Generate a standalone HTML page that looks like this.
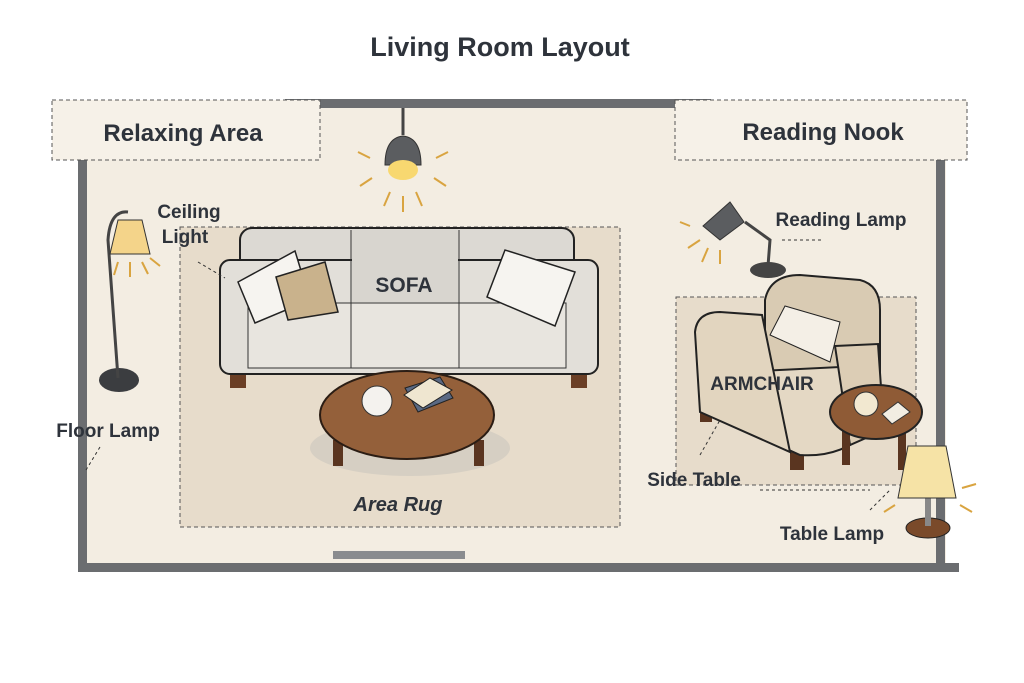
<!DOCTYPE html>
<html><head><meta charset="utf-8"><style>
html,body{margin:0;padding:0;background:#fff;}
svg{display:block;font-family:"Liberation Sans",sans-serif;}
</style></head><body>
<svg width="1024" height="683" viewBox="0 0 1024 683" xmlns="http://www.w3.org/2000/svg">
<rect width="1024" height="683" fill="#fff"/>
<text x="500" y="56" text-anchor="middle" font-size="27" font-weight="bold" fill="#2e333b">Living Room Layout</text>
<!-- floor -->
<rect x="86" y="106" width="860" height="460" fill="#f3ede2"/>
<!-- walls -->
<rect x="285" y="99" width="426" height="9" fill="#6b6d70"/>
<rect x="78" y="160" width="9" height="412" fill="#6b6d70"/>
<rect x="936" y="160" width="9" height="412" fill="#6b6d70"/>
<rect x="85" y="563" width="874" height="9" fill="#6b6d70"/>
<rect x="333" y="551" width="132" height="8" fill="#8a8c8f"/>
<!-- label boxes -->
<rect x="52" y="100" width="268" height="60" fill="#f6f1e8" stroke="#555" stroke-dasharray="4,3"/>
<text x="183" y="141" text-anchor="middle" font-size="24" font-weight="bold" fill="#2e333b">Relaxing Area</text>
<rect x="675" y="100" width="292" height="60" fill="#f6f1e8" stroke="#555" stroke-dasharray="4,3"/>
<text x="823" y="140" text-anchor="middle" font-size="24" font-weight="bold" fill="#2e333b">Reading Nook</text>
<!-- rugs -->
<rect x="180" y="227" width="440" height="300" fill="#e7dccb" stroke="#555" stroke-dasharray="4,3"/>
<rect x="676" y="297" width="240" height="188" fill="#e7dccb" stroke="#555" stroke-dasharray="4,3"/>
<!-- ceiling light -->
<line x1="403" y1="108" x2="403" y2="135" stroke="#444" stroke-width="3"/>
<path d="M385 165 Q385 138 403 136 Q421 138 421 165 Z" fill="#5b5d60" stroke="#333"/>
<ellipse cx="403" cy="170" rx="15" ry="10" fill="#f8d870"/>
<g stroke="#d9a440" stroke-width="2"><line x1="370" y1="158" x2="358" y2="152"/><line x1="436" y1="158" x2="448" y2="152"/><line x1="372" y1="178" x2="360" y2="186"/><line x1="434" y1="178" x2="446" y2="186"/><line x1="390" y1="192" x2="384" y2="206"/><line x1="416" y1="192" x2="422" y2="206"/><line x1="403" y1="196" x2="403" y2="212"/></g>
<!-- sofa -->
<rect x="230" y="374" width="16" height="14" fill="#6b3f26"/><rect x="571" y="374" width="16" height="14" fill="#6b3f26"/>
<rect x="240" y="228" width="334" height="110" rx="12" fill="#dcd9d3" stroke="#222" stroke-width="2"/>
<rect x="220" y="260" width="378" height="114" rx="10" fill="#e2dfd9" stroke="#222" stroke-width="2"/>
<rect x="248" y="303" width="318" height="65" fill="#e8e5df" stroke="#333"/>
<line x1="351" y1="230" x2="351" y2="368" stroke="#333"/><line x1="459" y1="230" x2="459" y2="368" stroke="#333"/>
<rect x="352" y="230" width="106" height="72" fill="#d8d5cf"/>
<polygon points="238,282 295,251 310,300 255,323" fill="#f6f4f0" stroke="#222" stroke-width="1.5"/>
<polygon points="276,277 325,262 338,312 288,320" fill="#c9b28c" stroke="#222" stroke-width="1.5"/>
<polygon points="487,297 505,250 575,272 555,326" fill="#f6f4f0" stroke="#222" stroke-width="1.5"/>
<text x="404" y="292" text-anchor="middle" font-size="21" font-weight="bold" fill="#2e333b">SOFA</text>
<!-- coffee table -->
<ellipse cx="410" cy="448" rx="100" ry="28" fill="#d6cfc3"/>
<rect x="333" y="440" width="10" height="26" fill="#5a3520"/><rect x="474" y="440" width="10" height="26" fill="#5a3520"/>
<ellipse cx="407" cy="415" rx="87" ry="44" fill="#94603a" stroke="#2b1d14" stroke-width="2"/>
<circle cx="377" cy="401" r="15" fill="#f4f2ee" stroke="#333"/>
<polygon points="405,388 440,377 453,398 418,412" fill="#5a6983" stroke="#222"/>
<polygon points="404,395 430,378 452,390 423,408" fill="#efe6d0" stroke="#222"/>
<text x="398" y="511" text-anchor="middle" font-size="20" font-style="italic" font-weight="bold" fill="#2e333b">Area Rug</text>
<!-- floor lamp -->
<ellipse cx="119" cy="380" rx="20" ry="12" fill="#3b3d40"/>
<path d="M118 378 L108 240 Q110 210 128 212" stroke="#444" stroke-width="3" fill="none"/>
<polygon points="118,220 142,220 150,254 110,254" fill="#f4d48a" stroke="#333"/>
<g stroke="#d9a440" stroke-width="2"><line x1="118" y1="262" x2="114" y2="275"/><line x1="130" y1="262" x2="130" y2="277"/><line x1="142" y1="262" x2="148" y2="274"/><line x1="150" y1="258" x2="160" y2="266"/></g>
<text x="189" y="218" text-anchor="middle" font-size="19" font-weight="bold" fill="#2e333b">Ceiling</text>
<text x="185" y="243" text-anchor="middle" font-size="19" font-weight="bold" fill="#2e333b">Light</text>
<line x1="198" y1="262" x2="225" y2="278" stroke="#333" stroke-dasharray="3,3"/>
<text x="108" y="437" text-anchor="middle" font-size="19" font-weight="bold" fill="#2e333b">Floor Lamp</text>
<line x1="100" y1="447" x2="86" y2="470" stroke="#333" stroke-dasharray="3,3"/>
<!-- reading lamp -->
<ellipse cx="768" cy="270" rx="18" ry="8" fill="#444"/>
<path d="M768 266 L770 240 L745 222" stroke="#444" stroke-width="3" fill="none"/>
<polygon points="703,226 730,202 744,222 720,240" fill="#5b5d60" stroke="#333"/>
<g stroke="#d9a440" stroke-width="2"><line x1="700" y1="240" x2="688" y2="248"/><line x1="708" y1="248" x2="702" y2="262"/><line x1="720" y1="250" x2="720" y2="264"/><line x1="690" y1="226" x2="680" y2="222"/></g>
<text x="841" y="226" text-anchor="middle" font-size="19" font-weight="bold" fill="#2e333b">Reading Lamp</text>
<line x1="782" y1="240" x2="822" y2="240" stroke="#333" stroke-dasharray="3,3"/>
<!-- armchair -->
<rect x="700" y="400" width="12" height="22" fill="#5a3520"/><rect x="790" y="448" width="14" height="22" fill="#5a3520"/>
<path d="M765 300 Q770 275 800 275 L860 280 Q880 285 880 310 L880 400 L765 400 Z" fill="#d9cbb3" stroke="#222" stroke-width="2"/>
<polygon points="770,335 785,306 840,322 830,362" fill="#f4efe6" stroke="#222"/>
<path d="M740 372 L860 366 L868 432 Q840 458 800 455 L745 430 Z" fill="#e4d8c4" stroke="#222" stroke-width="2"/>
<path d="M695 332 Q697 312 720 312 L762 315 L790 452 L700 412 Z" fill="#e2d5bf" stroke="#222" stroke-width="2"/>
<path d="M835 346 L878 344 L884 430 L850 445 Z" fill="#dccdb5" stroke="#222" stroke-width="2"/>
<text x="762" y="390" text-anchor="middle" font-size="19" font-weight="bold" fill="#2e333b">ARMCHAIR</text>
<!-- side table -->
<rect x="842" y="425" width="8" height="40" fill="#5a3520"/><rect x="898" y="425" width="8" height="45" fill="#5a3520"/>
<ellipse cx="876" cy="412" rx="46" ry="27" fill="#8f5b36" stroke="#222" stroke-width="2"/>
<circle cx="866" cy="404" r="12" fill="#f2e8d0" stroke="#333"/>
<polygon points="882,414 898,402 910,412 892,424" fill="#f2ede2" stroke="#333"/>
<text x="694" y="486" text-anchor="middle" font-size="19" font-weight="bold" fill="#2e333b">Side Table</text>
<line x1="700" y1="455" x2="720" y2="420" stroke="#333" stroke-dasharray="3,3"/>
<line x1="760" y1="490" x2="870" y2="490" stroke="#333" stroke-dasharray="3,3"/>
<!-- table lamp -->
<ellipse cx="928" cy="528" rx="22" ry="10" fill="#7a4a2a" stroke="#222"/>
<rect x="925" y="498" width="6" height="28" fill="#888"/>
<polygon points="908,446 946,446 956,498 898,498" fill="#f6e3a6" stroke="#333"/>
<g stroke="#d9a440" stroke-width="2"><line x1="895" y1="505" x2="884" y2="512"/><line x1="960" y1="505" x2="972" y2="512"/><line x1="962" y1="488" x2="976" y2="484"/></g>
<text x="832" y="540" text-anchor="middle" font-size="19" font-weight="bold" fill="#2e333b">Table Lamp</text>
<line x1="870" y1="510" x2="890" y2="490" stroke="#333" stroke-dasharray="3,3"/>
</svg>
</body></html>
